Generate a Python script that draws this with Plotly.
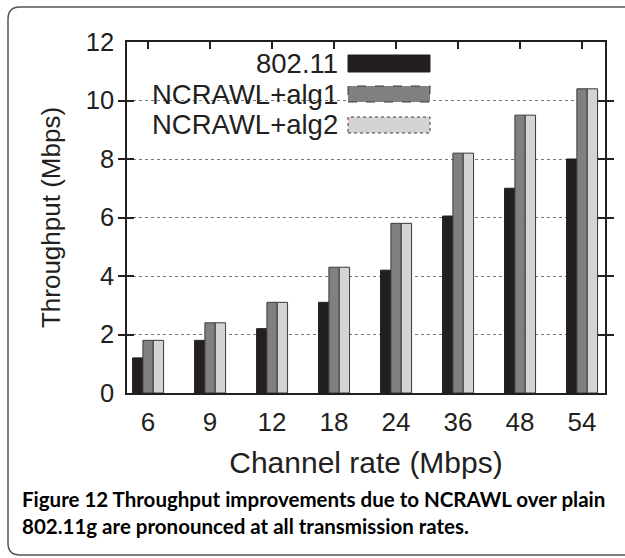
import plotly.graph_objects as go

categories = ["6", "9", "12", "18", "24", "36", "48", "54"]
series_names = ["802.11", "NCRAWL+alg1", "NCRAWL+alg2"]
vals_80211 = [1.2, 1.8, 2.2, 3.1, 4.2, 6.05, 7.0, 8.0]
vals_alg1 = [1.8, 2.4, 3.1, 4.3, 5.8, 8.2, 9.5, 10.4]
vals_alg2 = [1.8, 2.4, 3.1, 4.3, 5.8, 8.2, 9.5, 10.4]
y_ticks = [0, 2, 4, 6, 8, 10, 12]
x_title = "Channel rate (Mbps)"
y_title = "Throughput (Mbps)"
caption_1 = "<b>Figure 12</b> Throughput improvements due to NCRAWL over plain"
caption_2 = "802.11g are pronounced at all transmission rates."

W, H = 625, 558
L, R, T, B = 127, 20, 42, 165
PW, PH = W - L - R, H - T - B

def px(x):
    return (x - L) / PW

def py(y):
    return (H - B - y) / PH

colors = ["#231f20", "#808080", "#d4d4d4"]
line_cols = ["#231f20", "#3a3a3a", "#3a3a3a"]
FONT = "Liberation Sans, Arial, sans-serif"

fig = go.Figure()
for name, vals, c, lc in zip(series_names, [vals_80211, vals_alg1, vals_alg2], colors, line_cols):
    fig.add_trace(go.Bar(x=categories, y=vals, name=name,
                         marker=dict(color=c, line=dict(color=lc, width=1)),
                         showlegend=False))
# helper trace for top axis ticks
fig.add_trace(go.Scatter(x=categories, y=[None] * len(categories), xaxis="x2",
                         showlegend=False, hoverinfo="skip"))

xr = [-0.34, 7.37]
fig.update_layout(
    width=W, height=H,
    margin=dict(l=L, r=R, t=T, b=B),
    paper_bgcolor="white", plot_bgcolor="white",
    barmode="group", bargap=0.5, bargroupgap=0,
    font=dict(family=FONT, color="#231f20"),
    xaxis=dict(type="category", categoryarray=categories, range=xr,
               showline=True, linecolor="#231f20", linewidth=1.5, mirror=True,
               ticks="", showgrid=False,
               tickfont=dict(size=26, family=FONT, color="#231f20"),
               ticklabelstandoff=5,
               title=dict(text=x_title, font=dict(size=30, family=FONT, color="#231f20"), standoff=16)),
    xaxis2=dict(type="category", categoryarray=categories, range=xr, overlaying="x",
                side="top", ticks="inside", ticklen=7, tickwidth=1.5, tickcolor="#231f20",
                showticklabels=False, showgrid=False, showline=False),
    yaxis=dict(range=[0, 12], tickvals=y_ticks, ticks="inside", ticklen=7, tickwidth=1.5,
               tickcolor="#231f20", showline=True, linecolor="#231f20", linewidth=1.5,
               mirror="allticks", showgrid=True, gridcolor="#777777", griddash="dot", gridwidth=1,
               zeroline=False,
               tickfont=dict(size=25.5, family=FONT, color="#231f20"),
               ticklabelstandoff=6,
               title=dict(text=y_title, font=dict(size=26, family=FONT, color="#231f20"), standoff=18)),
)

shapes = []
# legend background
shapes.append(dict(type="rect", xref="paper", yref="paper",
                   x0=px(148), x1=px(447), y0=py(138), y1=py(48),
                   fillcolor="white", line=dict(width=0), layer="between"))
rows = [(55, 72), (86, 102), (117, 133)]
dashes = ["solid", "dash", "dot"]
for (y0, y1), c, d, lc in zip(rows, colors, dashes, line_cols):
    shapes.append(dict(type="rect", xref="paper", yref="paper",
                       x0=px(348), x1=px(430), y0=py(y1), y1=py(y0),
                       fillcolor=c, line=dict(color=lc, width=1, dash=d), layer="above"))
# rounded border, open on the right (runs off the page)
BC = "#555555"
lft, top_, bot, rgt = px(8), py(7), py(555), px(626)
rx, ry = 12 / PW, 12 / PH
border_line = dict(color=BC, width=1.5)
shapes.append(dict(type="line", xref="paper", yref="paper", x0=lft + rx, x1=rgt, y0=top_, y1=top_, line=border_line))
shapes.append(dict(type="line", xref="paper", yref="paper", x0=lft + rx, x1=rgt, y0=bot, y1=bot, line=border_line))
shapes.append(dict(type="line", xref="paper", yref="paper", x0=lft, x1=lft, y0=bot + ry, y1=top_ - ry, line=border_line))
shapes.append(dict(type="path", xref="paper", yref="paper",
                   path=f"M {lft+rx},{top_} Q {lft},{top_} {lft},{top_-ry}", line=border_line))
shapes.append(dict(type="path", xref="paper", yref="paper",
                   path=f"M {lft},{bot+ry} Q {lft},{bot} {lft+rx},{bot}", line=border_line))
fig.update_layout(shapes=shapes)

annotations = []
for name, (y0, y1) in zip(series_names, rows):
    annotations.append(dict(text=name, xref="paper", yref="paper", x=px(340), y=py((y0 + y1) / 2),
                            xanchor="right", yanchor="middle", showarrow=False,
                            font=dict(size=27.5, family=FONT, color="#231f20")))
CFONT = "Lato, Open Sans, sans-serif"
annotations.append(dict(text=caption_1, xref="paper", yref="paper", x=px(20), y=py(499),
                        xanchor="left", yanchor="middle", showarrow=False, align="left",
                        font=dict(size=20.5, family=CFONT, color="#000000", weight="bold")))
annotations.append(dict(text=caption_2, xref="paper", yref="paper", x=px(20), y=py(526),
                        xanchor="left", yanchor="middle", showarrow=False, align="left",
                        font=dict(size=20.5, family=CFONT, color="#000000", weight="bold")))
fig.update_layout(annotations=annotations)

fig.write_html("out.html", config={"displayModeBar": False},
               post_script="document.body.style.margin='0';document.body.style.overflow='hidden';")
